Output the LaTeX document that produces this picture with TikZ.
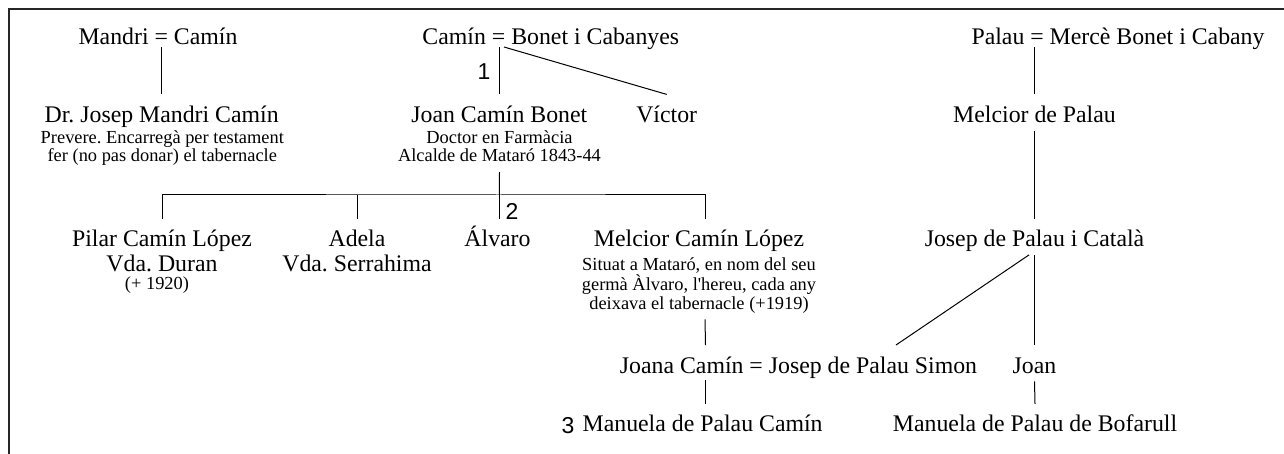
\documentclass[tikz,border=0pt]{standalone}
\usepackage{fontspec}
\setmainfont{Liberation Serif}
\newfontfamily\numfont{Liberation Sans}
\usepackage{tikz}
\frenchspacing

\begin{document}
\begin{tikzpicture}[x=0.5pt, y=-0.5pt,
    pers/.style={anchor=base, inner sep=0pt, text height=13.75pt, text depth=4pt,
      font=\fontsize{11.9}{14}\selectfont},
    annot/.style={anchor=base, inner sep=0pt, text height=9pt, text depth=5pt,
      font=\fontsize{9.2}{11}\selectfont},
    num/.style={inner sep=0pt, font=\numfont\fontsize{11.5}{13}\selectfont},
    kin/.style={line width=0.5pt},
    boxline/.style={line width=1pt, black!85}]
    \useasboundingbox (0,0) rectangle (1284,454);
    \draw[boxline] (1284,9) -- (9,9) -- (9,454);

    % first generation
    \node[pers] (mandri) at (158,44.3) {Mandri = Camín};
    \node[pers] (bonet) at (550.8,44.3) {Camín = Bonet i Cabanyes};
    \node[pers] (palau) at (1118,44.3) {Palau = Mercè Bonet i Cabany};
    \coordinate (m1) at (161.5,47);
    \coordinate (m2) at (499.3,47);
    \coordinate (m2d) at (504,47);
    \coordinate (m4) at (1034.3,47);

    % second generation
    \node[pers] (jmandri) at (161.7,122.3) {Dr. Josep Mandri Camín};
    \node[annot] (jmandri-n1) at (162.3,143.3) {Prevere. Encarregà per testament};
    \node[annot] (jmandri-n2) at (162.3,161.7) {fer (no pas donar) el tabernacle};
    \node[pers] (joan) at (499.3,122.3) {Joan Camín Bonet};
    \node[annot] (joan-n1) at (499.5,143.3) {Doctor en Farmàcia};
    \node[annot] (joan-n2) at (499.5,161.7) {Alcalde de Mataró 1843-44};
    \node[pers] (victor) at (666.7,122.3) {Víctor};
    \node[pers] (melciorp) at (1034.5,122.3) {Melcior de Palau};
    \node[num] (n1) at (484,72) {1};

    \draw[kin] (m1) -- (m1 |- jmandri.north);
    \draw[kin] (m2) -- (joan.north);
    \draw[kin] (m2d) -- (victor.north);
    \draw[kin] (m4) -- (m4 |- melciorp.north);

    % third generation
    \coordinate (bar) at (499.3,195);
    \node[pers] (pilar) at (162,246.5) {Pilar Camín López};
    \node[pers] (pilar-v) at (162,271.7) {Vda. Duran};
    \node[annot] (pilar-d) at (157,289.5) {(+ 1920)};
    \node[pers] (adela) at (357,246.5) {Adela};
    \node[pers] (adela-v) at (357,271.7) {Vda. Serrahima};
    \node[pers] (alvaro) at (497.5,246.5) {Álvaro};
    \node[pers] (melcior) at (699,246.5) {Melcior Camín López};
    \node[annot] (melcior-n1) at (699,270.7) {Situat a Mataró, en nom del seu};
    \node[annot] (melcior-n2) at (699,290) {germà Àlvaro, l\textquotesingle hereu, cada any};
    \node[annot] (melcior-n3) at (699,309) {deixava el tabernacle (+1919)};
    \node[pers] (josepc) at (1034.5,246.5) {Josep de Palau i Català};
    \node[num] (n2) at (512,211) {2};

    \draw[kin] (joan-n2.south) -- (bar);
    \draw[kin] (pilar.north) |- (bar) -| ([xshift=3pt]melcior.north);
    \draw[kin] (adela.north) -- (adela.north |- bar);
    \draw[kin] (bar) -- (bar |- alvaro.north);
    \draw[kin] (melciorp.south) -- (josepc.north);

    % fourth generation
    \node[pers] (joana) at (798.5,373) {Joana Camín = Josep de Palau Simon};
    \node[pers] (joanr) at (1034.5,373) {Joan};
    \coordinate (m3) at (705.5,380);
    \coordinate (simon) at (896,345);

    \draw[kin] ([xshift=3pt]melcior-n3.south) -- (m3 |- joana.north);
    \draw[kin] ([xshift=-2.75pt]josepc.south) -- (simon);
    \draw[kin] (josepc.south) -- (joanr.north);

    % fifth generation
    \node[pers] (manuela) at (702.6,431.7) {Manuela de Palau Camín};
    \node[pers] (manuelab) at (1035,431.7) {Manuela de Palau de Bofarull};
    \node[num] (n3) at (568,425.5) {3};

    \draw[kin] (m3) -- (m3 |- manuela.north);
    \draw[kin] (joanr.south) -- (manuelab.north);
  \end{tikzpicture}
\end{document}
